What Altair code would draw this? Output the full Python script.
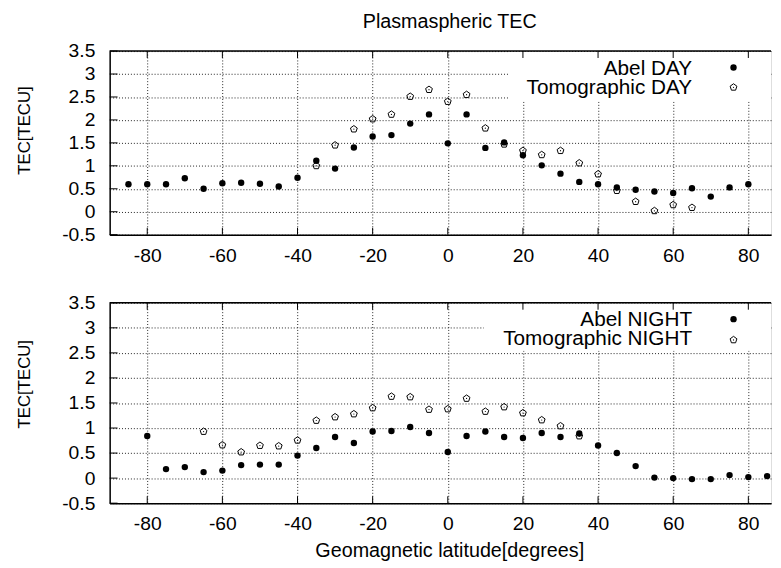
import altair as alt
import pandas as pd

# ---------------- data ----------------
lat_abel_day = [-85, -80, -75, -70, -65, -60, -55, -50, -45, -40, -35, -30, -25, -20, -15, -10, -5,
                0, 5, 10, 15, 20, 25, 30, 35, 40, 45, 50, 55, 60, 65, 70, 75, 80]
tec_abel_day = [0.60, 0.60, 0.60, 0.73, 0.50, 0.62, 0.63, 0.61, 0.55, 0.74, 1.11, 0.94, 1.40, 1.64, 1.67, 1.92, 2.12,
                1.49, 2.12, 1.39, 1.51, 1.23, 1.01, 0.83, 0.65, 0.60, 0.53, 0.48, 0.44, 0.41, 0.51, 0.33, 0.53, 0.60]

lat_tomo_day = [-35, -30, -25, -20, -15, -10, -5, 0, 5, 10, 15, 20, 25, 30, 35, 40, 45, 50, 55, 60, 65]
tec_tomo_day = [1.00, 1.45, 1.80, 2.02, 2.12, 2.51, 2.66, 2.40, 2.55, 1.82, 1.47, 1.33, 1.24, 1.33, 1.06, 0.82,
                0.46, 0.22, 0.02, 0.15, 0.09]

lat_abel_night = [-80, -75, -70, -65, -60, -55, -50, -45, -40, -35, -30, -25, -20, -15, -10, -5,
                  0, 5, 10, 15, 20, 25, 30, 35, 40, 45, 50, 55, 60, 65, 70, 75, 80, 85]
tec_abel_night = [0.84, 0.18, 0.22, 0.12, 0.15, 0.26, 0.27, 0.27, 0.45, 0.60, 0.82, 0.70, 0.93, 0.94, 1.02, 0.90,
                  0.52, 0.84, 0.93, 0.82, 0.80, 0.90, 0.82, 0.89, 0.65, 0.50, 0.24, 0.01, 0.00, -0.02, -0.02, 0.06, 0.02, 0.04]

lat_tomo_night = [-65, -60, -55, -50, -45, -40, -35, -30, -25, -20, -15, -10, -5, 0, 5, 10, 15, 20, 25, 30, 35]
tec_tomo_night = [0.93, 0.66, 0.52, 0.65, 0.64, 0.755, 1.15, 1.22, 1.28, 1.40, 1.63, 1.62, 1.37, 1.38, 1.59, 1.33,
                  1.42, 1.30, 1.16, 1.04, 0.84]

x_ticks = [-80, -60, -40, -20, 0, 20, 40, 60, 80]
y_ticks = [-0.5, 0, 0.5, 1, 1.5, 2, 2.5, 3, 3.5]

legend_day = ["Abel DAY", "Tomographic DAY"]
legend_night = ["Abel NIGHT", "Tomographic NIGHT"]
main_title = "Plasmaspheric TEC"
x_title = "Geomagnetic latitude[degrees]"
y_title = "TEC[TECU]"

# ---------------- style ----------------
FONT = "Liberation Sans"
PENT = "M0,-1L0.951,-0.309L0.588,0.809L-0.588,0.809L-0.951,-0.309Z"
W = 670
X_DOMAIN = [-90, 86.04]
Y_DOMAIN = [-0.5, 3.5]


def panel(abel_lat, abel_tec, tomo_lat, tomo_tec, labels, H, box_left, box_bottom,
          text_base, marker_y, xtitle, ytitle_y, heading=None):
    abel = pd.DataFrame({"lat": abel_lat, "tec": abel_tec})
    tomo = pd.DataFrame({"lat": tomo_lat, "tec": tomo_tec})
    xt = pd.DataFrame({"lat": x_ticks})
    yt = pd.DataFrame({"tec": y_ticks})
    one = pd.DataFrame({"k": [0]})

    xaxis = alt.Axis(values=x_ticks, grid=True, gridDash=[1, 2], gridColor="#222", gridWidth=1,
                     ticks=True, tickSize=0, labelExpr="datum.value + ''", labelFontSize=19.5,
                     labelFont=FONT, labelColor="black", labelPadding=12, labelFlush=False,
                     domainColor="black", domainWidth=1.5,
                     titleFont=FONT, titleFontSize=20, titleFontWeight="normal", titleColor="black",
                     titleX=344, titleY=54, titleAlign="center", titleBaseline="alphabetic")
    yaxis = alt.Axis(values=y_ticks, grid=True, gridDash=[1, 2], gridColor="#222", gridWidth=1,
                     ticks=True, tickSize=0, labelExpr="datum.value + ''", labelFontSize=19.5,
                     labelFont=FONT, labelColor="black", labelPadding=15, labelFlush=False,
                     domainColor="black", domainWidth=1.5,
                     titleFont=FONT, titleFontSize=17, titleFontWeight="normal", titleColor="black",
                     titleX=-81, titleY=ytitle_y, titleAlign="center", titleBaseline="alphabetic",
                     titleAngle=270)

    def X():
        return alt.X("lat:Q", scale=alt.Scale(domain=X_DOMAIN, nice=False, zero=False),
                     axis=xaxis, title=xtitle)

    def Y():
        return alt.Y("tec:Q", scale=alt.Scale(domain=Y_DOMAIN, nice=False, zero=False),
                     axis=yaxis, title=y_title)

    tomo_pts = alt.Chart(tomo).mark_point(shape=PENT, size=52, filled=False, stroke="black",
                                          strokeWidth=1, opacity=1).encode(x=X(), y=Y())
    tomo_dot = alt.Chart(tomo).mark_point(shape="circle", size=1.5, filled=True, color="black",
                                          opacity=1).encode(x=X(), y=Y())
    abel_pts = alt.Chart(abel).mark_point(shape="circle", size=42, filled=True, color="black",
                                          opacity=1).encode(x=X(), y=Y())

    box = alt.Chart(one).mark_rect(fill="white", strokeOpacity=0).encode(
        x=alt.value(box_left), x2=alt.value(W), y=alt.value(1), y2=alt.value(box_bottom))

    xt_bottom = alt.Chart(xt).mark_rule(color="black", strokeWidth=1).encode(
        x=X(), y=alt.value(H), y2=alt.value(H - 7))
    xt_top = alt.Chart(xt).mark_rule(color="black", strokeWidth=1).encode(
        x=X(), y=alt.value(0), y2=alt.value(7))
    yt_left = alt.Chart(yt).mark_rule(color="black", strokeWidth=1).encode(
        y=Y(), x=alt.value(0), x2=alt.value(8))
    top_border = alt.Chart(one).mark_rule(color="black", strokeWidth=1.5).encode(
        x=alt.value(0), x2=alt.value(W), y=alt.value(0))

    layers = [tomo_pts, tomo_dot, abel_pts, box, xt_bottom, xt_top, yt_left, top_border]
    for i, lab in enumerate(labels):
        layers.append(alt.Chart(one).mark_text(align="right", baseline="alphabetic", font=FONT,
                                               fontSize=21, color="black").encode(
            x=alt.value(590), y=alt.value(text_base[i]), text=alt.value(lab)))
    layers.append(alt.Chart(one).mark_point(shape="circle", size=42, filled=True, color="black",
                                            opacity=1).encode(x=alt.value(632), y=alt.value(marker_y[0])))
    layers.append(alt.Chart(one).mark_point(shape=PENT, size=52, filled=False, stroke="black",
                                            strokeWidth=1, opacity=1).encode(x=alt.value(632), y=alt.value(marker_y[1])))
    layers.append(alt.Chart(one).mark_point(shape="circle", size=1.5, filled=True, color="black",
                                            opacity=1).encode(x=alt.value(632), y=alt.value(marker_y[1])))
    if heading:
        layers.append(alt.Chart(one).mark_text(align="center", baseline="alphabetic", font=FONT,
                                               fontSize=20, color="black").encode(
            x=alt.value(344.5), y=alt.value(-23), text=alt.value(heading)))

    return alt.layer(*layers).properties(width=W, height=H)


top = panel(lat_abel_day, tec_abel_day, lat_tomo_day, tec_tomo_day, legend_day, 186,
            404, 51, [23.8, 43.8], [16.7, 36.7], "", 80, heading=main_title)

bottom = panel(lat_abel_night, tec_abel_night, lat_tomo_night, tec_tomo_night, legend_night, 203,
               379, 48.6, [23.8, 43.1], [16.6, 37.6], x_title, 82)

chart = alt.vconcat(top, bottom, spacing=27).properties(
    padding={"left": 7, "top": 0, "right": 0, "bottom": 0}
).configure_view(strokeOpacity=0).configure(background="white")

chart.save("out.html", embed_options={"renderer": "svg", "actions": False})
